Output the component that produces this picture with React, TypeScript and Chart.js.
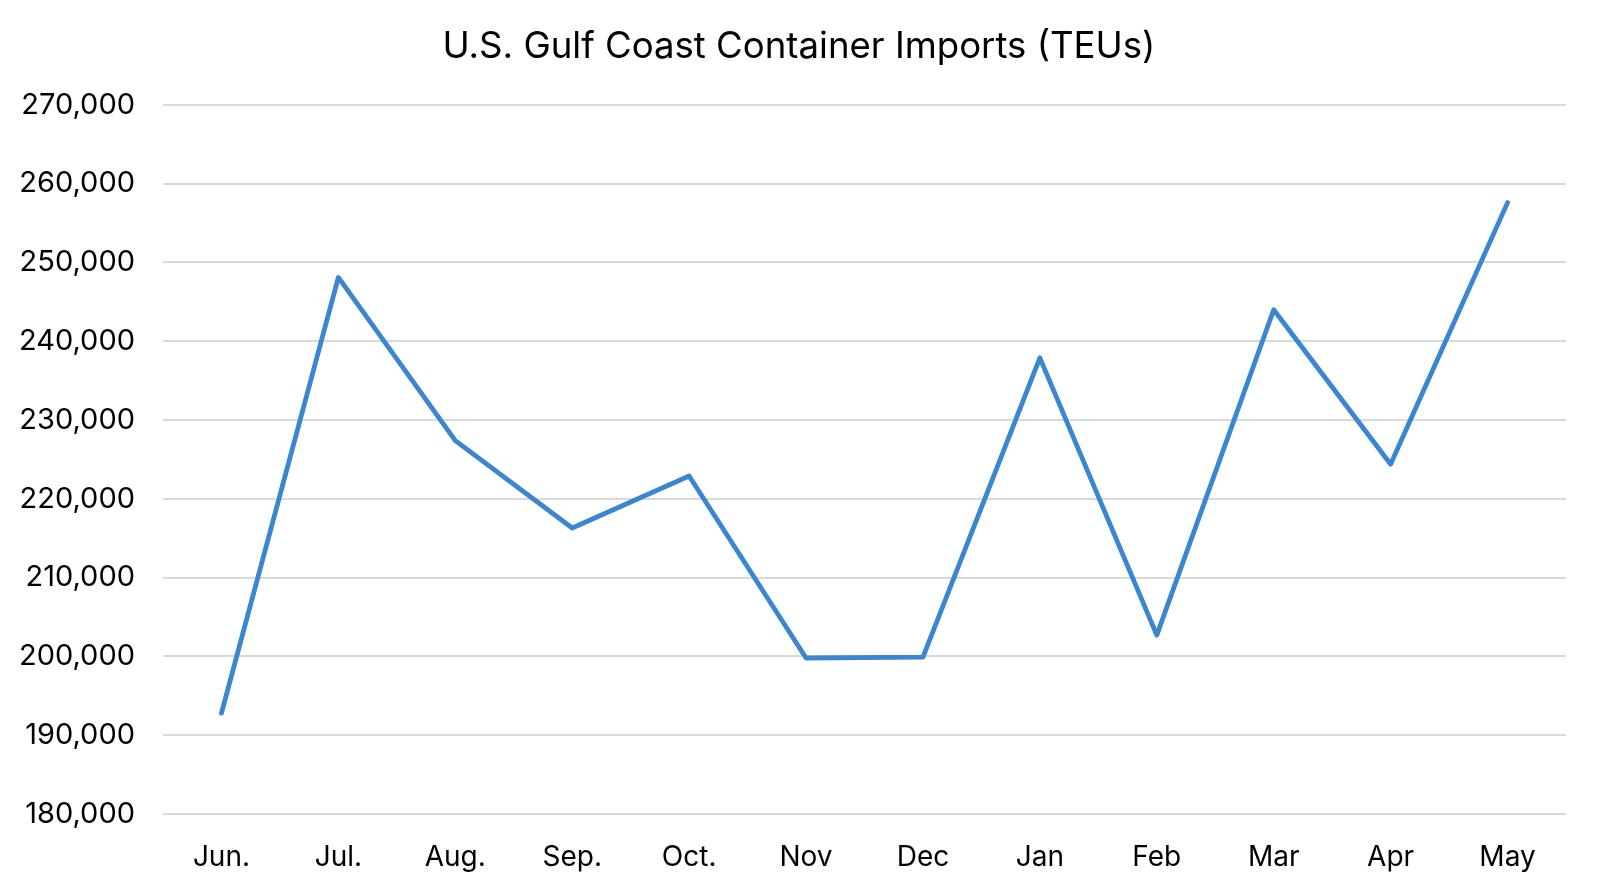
import React, { useEffect, useRef } from "react";
import { Chart, registerables } from "chart.js";

Chart.register(...registerables);

const TITLE = "U.S. Gulf Coast Container Imports (TEUs)";
const MONTHS = ["Jun.", "Jul.", "Aug.", "Sep.", "Oct.", "Nov", "Dec", "Jan", "Feb", "Mar", "Apr", "May"];
const IMPORTS = [192800, 248100, 227400, 216300, 222900, 199800, 199900, 237900, 202700, 244000, 224400, 257600];
const Y_MIN = 180000;
const Y_MAX = 270000;
const Y_STEP = 10000;

const FONT = "Inter, Roboto, sans-serif";

const titleShift = {
  id: "titleShift",
  afterLayout(chart: any) {
    const t = chart.titleBlock;
    if (t) {
      t.left += 6;
      t.right += 6;
    }
  },
};

export default function App() {
  const ref = useRef<HTMLCanvasElement | null>(null);
  useEffect(() => {
    if (!ref.current) return;
    const chart = new Chart(ref.current, {
      type: "line",
      data: {
        labels: MONTHS,
        datasets: [
          {
            label: "Imports",
            data: IMPORTS,
            borderColor: "#3b86d0",
            backgroundColor: "#3b86d0",
            borderWidth: 4.8,
            pointRadius: 0,
            tension: 0,
            borderCapStyle: "round",
            borderJoinStyle: "round",
          },
        ],
      },
      plugins: [titleShift],
      options: {
        animation: false,
        responsive: false,
        maintainAspectRatio: false,
        layout: { padding: { left: 20, right: 34, top: 8, bottom: 21 } },
        plugins: {
          legend: { display: false },
          tooltip: { enabled: false },
          title: {
            display: true,
            text: TITLE,
            color: "#000",
            font: { family: FONT, size: 36.6, weight: "normal" },
            padding: { top: 17, bottom: 36 },
          },
        },
        scales: {
          x: {
            offset: true,
            grid: { display: false, drawTicks: false },
            border: { display: false },
            ticks: {
              color: "#000",
              font: { family: FONT, size: 28 },
              padding: 27,
              maxRotation: 0,
            },
            afterFit: (axis: any) => {
              axis.height = 61;
            },
          },
          y: {
            min: Y_MIN,
            max: Y_MAX,
            grid: { color: "#d9d9d9", lineWidth: 2, drawTicks: false },
            border: { display: false },
            ticks: {
              stepSize: Y_STEP,
              color: "#000",
              font: { family: FONT, size: 29 },
              padding: 28,
              callback: (v: any) => Number(v).toLocaleString("en-US"),
            },
            afterFit: (axis: any) => {
              axis.width = 143;
            },
          },
        },
      },
    });
    return () => chart.destroy();
  }, []);
  return (
    <div style={{ position: "fixed", left: 0, top: 0, width: 1600, height: 896, background: "#fff" }}>
      <canvas ref={ref} width={1600} height={896} style={{ width: 1600, height: 896 }} />
    </div>
  );
}
